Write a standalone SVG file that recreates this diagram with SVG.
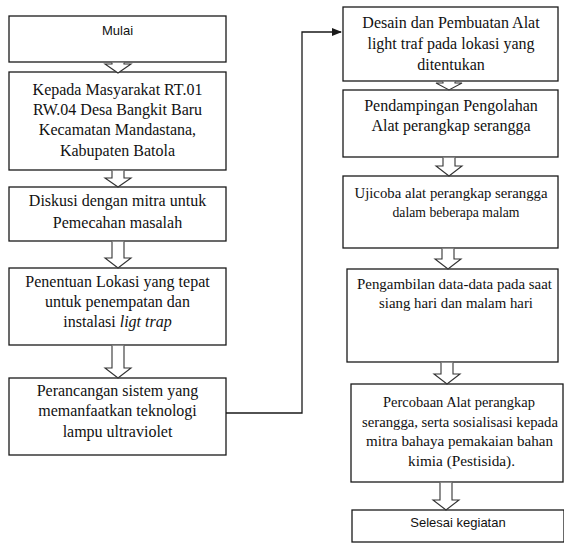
<svg xmlns="http://www.w3.org/2000/svg" width="564" height="543" viewBox="0 0 564 543">
<defs>
<style>
.box{fill:#fff;stroke:#1a1a1a;stroke-width:1.3}
.t{font-family:"Liberation Serif","Times New Roman",serif;font-size:16px;fill:#111;text-anchor:middle}
.s{font-family:"Liberation Serif","Times New Roman",serif;font-size:14px;fill:#111;text-anchor:middle}
.sans{font-family:"Liberation Sans",Arial,sans-serif;font-size:13px;fill:#111;text-anchor:middle}
.ha{fill:#fff;stroke:#333;stroke-width:1.1;stroke-linejoin:miter}
.conn{fill:none;stroke:#1a1a1a;stroke-width:1.3}
</style>
<marker id="ah" markerWidth="10" markerHeight="8" refX="9" refY="4" orient="auto" markerUnits="userSpaceOnUse">
<path d="M0,0 L10,4 L0,8 Z" fill="#1a1a1a"/>
</marker>
</defs>
<rect width="564" height="543" fill="#fff"/>

<g id="n1"><rect class="box" x="9" y="16" width="217" height="46"/><text class="sans" x="117.5" y="35">Mulai</text></g>
<g id="n2"><rect class="box" x="9" y="72" width="217" height="98"/>
<text class="t" x="117.5" y="95">Kepada Masyarakat RT.01</text>
<text class="t" x="117.5" y="114.5">RW.04 Desa Bangkit Baru</text>
<text class="t" x="117.5" y="135">Kecamatan Mandastana,</text>
<text class="t" x="117.5" y="156">Kabupaten Batola</text></g>
<g id="n3"><rect class="box" x="9" y="187" width="217" height="54"/>
<text class="t" x="117.5" y="206">Diskusi dengan mitra untuk</text>
<text class="t" x="117.5" y="228">Pemecahan masalah</text></g>
<g id="n4"><rect class="box" x="9" y="268" width="217" height="77"/>
<text class="t" x="117.5" y="287">Penentuan Lokasi yang tepat</text>
<text class="t" x="117.5" y="307">untuk penempatan dan</text>
<text class="t" x="117.5" y="327">instalasi <tspan font-style="italic">ligt trap</tspan></text></g>
<g id="n5"><rect class="box" x="9" y="378" width="217" height="77"/>
<text class="t" x="117.5" y="396">Perancangan sistem yang</text>
<text class="t" x="117.5" y="416">memanfaatkan teknologi</text>
<text class="t" x="117.5" y="437">lampu ultraviolet</text></g>

<g id="n6"><rect class="box" x="343" y="7" width="215" height="74"/>
<text class="t" x="451" y="28">Desain dan Pembuatan Alat</text>
<text class="t" x="451" y="49">light traf pada lokasi yang</text>
<text class="t" x="451" y="70">ditentukan</text></g>
<g id="n7"><rect class="box" x="343" y="90" width="215" height="67"/>
<text class="t" x="451" y="111">Pendampingan Pengolahan</text>
<text class="t" x="451" y="131">Alat perangkap serangga</text></g>
<g id="n8"><rect class="box" x="343" y="176" width="215" height="72"/>
<text class="s" x="451" y="198" textLength="193" lengthAdjust="spacingAndGlyphs">Ujicoba alat perangkap serangga</text>
<text class="s" x="456" y="217" textLength="127" lengthAdjust="spacingAndGlyphs">dalam beberapa malam</text></g>
<g id="n9"><rect class="box" x="347" y="269" width="211" height="93"/>
<text class="s" x="454.5" y="289" textLength="195" lengthAdjust="spacingAndGlyphs">Pengambilan data-data pada saat</text>
<text class="s" x="456" y="308" textLength="154" lengthAdjust="spacingAndGlyphs">siang hari dan malam hari</text></g>
<g id="n10"><rect class="box" x="351" y="384" width="212" height="98"/>
<text class="s" x="459" y="407" textLength="152" lengthAdjust="spacingAndGlyphs">Percobaan Alat perangkap</text>
<text class="s" x="460" y="427" textLength="196" lengthAdjust="spacingAndGlyphs">serangga, serta sosialisasi kepada</text>
<text class="s" x="459.5" y="446" textLength="187" lengthAdjust="spacingAndGlyphs">mitra bahaya pemakaian bahan</text>
<text class="s" x="461.5" y="466" textLength="107" lengthAdjust="spacingAndGlyphs">kimia (Pestisida).</text></g>
<g id="n11"><rect class="box" x="352" y="510" width="212" height="32"/>
<text class="sans" x="458" y="527">Selesai kegiatan</text></g>

<g id="connectors">
<path class="ha" d="M112,62.7 L112,64 L105,64 L118,73 L131,64 L124,64 L124,62.7"/>
<path class="ha" d="M112,170.7 L112,178 L105,178 L118,187 L131,178 L124,178 L124,170.7"/>
<path class="ha" d="M112,241.7 L112,258 L105,258 L118,268 L131,258 L124,258 L124,241.7"/>
<path class="ha" d="M112,345.7 L112,368 L105,368 L118,378 L131,368 L124,368 L124,345.7"/>
<path class="ha" d="M443,81.7 L443,83 L436,83 L449,90 L462,83 L455,83 L455,81.7"/>
<path class="ha" d="M443,157.7 L443,166 L436,166 L449,176 L462,166 L455,166 L455,157.7"/>
<path class="ha" d="M442,248.7 L442,259 L435,259 L448,269 L461,259 L454,259 L454,248.7"/>
<path class="ha" d="M441,362.7 L441,374 L434,374 L447,384 L460,374 L453,374 L453,362.7"/>
<path class="ha" d="M440,482.7 L440,500 L433,500 L446,510 L459,500 L452,500 L452,482.7"/>
<path class="conn" d="M226,413 L302,413 L302,32 L341,32" marker-end="url(#ah)"/>
</g>
</svg>
